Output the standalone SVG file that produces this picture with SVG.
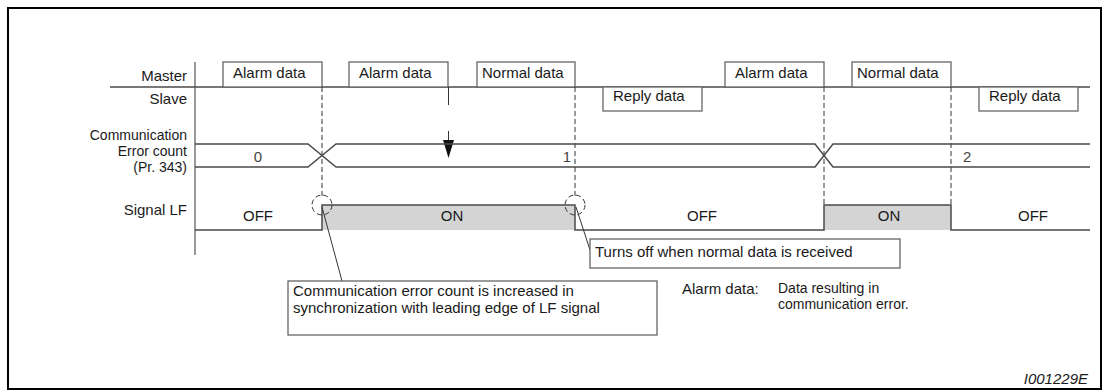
<svg xmlns="http://www.w3.org/2000/svg" width="1105" height="392" viewBox="0 0 1105 392">
<style>
text{font-family:"Liberation Sans",Arial,sans-serif;font-size:15px;fill:#1a1a1a}
.r{text-anchor:end}
.m{text-anchor:middle}
.sm{font-size:14px}
.box{fill:#fff;stroke:#666;stroke-width:1.3}
.ln{fill:none;stroke:#4a4a4a;stroke-width:1.5}
.dash{fill:none;stroke:#333;stroke-width:1;stroke-dasharray:5,3}
.thin{fill:none;stroke:#333;stroke-width:1}
.dig{fill:#444}
</style>
<rect x="8" y="8" width="1093" height="381" fill="#fff" stroke="#000" stroke-width="2"/>
<g id="labels">
<text class="r" x="187" y="81">Master</text>
<text class="r" x="187" y="104">Slave</text>
<text class="r sm" x="187" y="140">Communication</text>
<text class="r sm" x="187" y="156">Error count</text>
<text class="r sm" x="187" y="172">(Pr. 343)</text>
<text class="r" x="187" y="215">Signal LF</text>
</g>
<g id="axis">
<line x1="195" y1="62" x2="195" y2="255" stroke="#777" stroke-width="1.5"/>
<line x1="110" y1="87" x2="1090" y2="87" class="ln"/>
</g>
<g id="master1"><rect class="box" x="223" y="62" width="99" height="25"/><text x="233" y="78">Alarm data</text></g>
<g id="master2"><rect class="box" x="349" y="62" width="99" height="25"/><text x="359" y="78">Alarm data</text></g>
<g id="master3"><rect class="box" x="477" y="62" width="98" height="25"/><text x="482" y="78">Normal data</text></g>
<g id="master4"><rect class="box" x="725" y="62" width="99" height="25"/><text x="735" y="78">Alarm data</text></g>
<g id="master5"><rect class="box" x="852" y="62" width="99" height="25"/><text x="857" y="78">Normal data</text></g>
<g id="slave1"><rect class="box" x="603" y="87" width="99" height="24"/><text x="613" y="101">Reply data</text></g>
<g id="slave2"><rect class="box" x="979" y="87" width="99" height="24"/><text x="989" y="101">Reply data</text></g>
<g id="connectors">
<line class="dash" x1="322" y1="87" x2="322" y2="196"/>
<line class="dash" x1="575" y1="87" x2="575" y2="196"/>
<line class="dash" x1="824" y1="87" x2="824" y2="205"/>
<line class="dash" x1="951" y1="87" x2="951" y2="205"/>
<line x1="448.5" y1="87" x2="448.5" y2="105" stroke="#333" stroke-width="1"/>
<line x1="448.5" y1="131" x2="448.5" y2="142" stroke="#333" stroke-width="1"/>
<polygon points="443,140 454,140 448.5,158" fill="#111"/>
<path class="ln" d="M195,144 H308 L336,167 H815 L833,144 H1090"/>
<path class="ln" d="M195,167 H308 L336,144 H815 L833,167 H1090"/>
<rect x="322" y="205" width="253" height="25" fill="#d4d4d4"/>
<rect x="824" y="205" width="127" height="25" fill="#d4d4d4"/>
<path class="ln" d="M195,230 H322 V205 H575 V230 H824 V205 H951 V230 H1090"/>
<circle class="dash" cx="322" cy="205" r="10" stroke-dasharray="3,2"/>
<circle class="dash" cx="575" cy="205" r="10" stroke-dasharray="3,2"/>
<line class="thin" x1="322" y1="207" x2="342" y2="281"/>
<line class="thin" x1="576" y1="207" x2="590" y2="250"/>
</g>
<g id="values">
<text class="m dig" x="258" y="162">0</text>
<text class="r dig" x="571" y="162">1</text>
<text class="dig" x="963" y="162">2</text>
<text class="m" x="258" y="221">OFF</text>
<text class="m" x="452" y="221">ON</text>
<text class="m" x="702" y="221">OFF</text>
<text class="m" x="889" y="221">ON</text>
<text class="m" x="1033" y="221">OFF</text>
</g>
<g id="note-off"><rect class="box" x="590" y="239" width="310" height="29"/><text x="595" y="257">Turns off when normal data is received</text></g>
<g id="note-count"><rect class="box" x="288" y="281" width="369" height="54"/>
<text x="293" y="296">Communication error count is increased in</text>
<text x="293" y="313">synchronization with leading edge of LF signal</text></g>
<g id="legend">
<text x="682" y="294">Alarm data:</text>
<text class="sm" x="778" y="293">Data resulting in</text>
<text class="sm" x="778" y="309">communication error.</text>
</g>
<text class="r" x="1088" y="384" font-style="italic">I001229E</text>
</svg>
